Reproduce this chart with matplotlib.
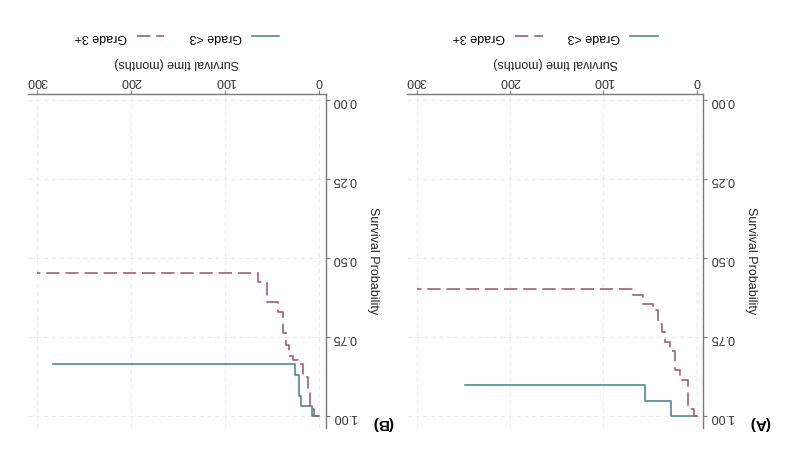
import matplotlib
matplotlib.use("Agg")
import matplotlib.pyplot as plt

plt.rcParams['font.family'] = ['Liberation Sans', 'DejaVu Sans']

a_lt3_t = [0, 27.7, 55.3, 248]
a_lt3_p = [1.0, 0.955, 0.902, 0.902]
a_3p_t = [0, 3.2, 9.2, 18.1, 23.4, 28.7, 34, 37.6, 41.1, 46.5, 57.1, 67.7, 300]
a_3p_p = [1.0, 0.979, 0.889, 0.857, 0.794, 0.767, 0.736, 0.709, 0.667, 0.646, 0.619, 0.598, 0.598]

b_lt3_t = [0, 7.8, 19, 21, 25.5, 283]
b_lt3_p = [1.0, 0.970, 0.937, 0.873, 0.836, 0.836]
b_3p_t = [0, 5, 10, 11.4, 17, 22, 27.3, 32, 35, 38, 43.3, 55.5, 65, 300]
b_3p_p = [1.0, 0.979, 0.92, 0.878, 0.836, 0.825, 0.81, 0.775, 0.74, 0.672, 0.64, 0.577, 0.549, 0.549]

x_ticks = [0, 100, 200, 300]
y_ticks = [0.00, 0.25, 0.50, 0.75, 1.00]
y_ticklabels = ["0.00", "0.25", "0.50", "0.75", "1.00"]
groups = ["Grade <3", "Grade 3+"]

teal = "#4f8b8d"
mauve = "#a3606e"
gray = "#7a7a7a"


def km_panel(fig, rect, lt3_t, lt3_p, p3_t, p3_p, tag):
    ax = fig.add_axes(rect)
    l1, = ax.step(lt3_t, lt3_p, where="post", color=teal, lw=1.2)
    l2, = ax.step(p3_t, p3_p, where="post", color=mauve, lw=1.2,
                  linestyle=(0, (8, 3.5)))
    # picture is rotated 180 degrees: flip both axes
    ax.set_xlim(310, -7)
    ax.set_ylim(1.04, -0.019)
    ax.set_xticks(x_ticks)
    ax.set_yticks(y_ticks)
    ax.set_yticklabels(y_ticklabels)
    ax.xaxis.tick_top()
    ax.yaxis.tick_right()
    for s in ["left", "bottom"]:
        ax.spines[s].set_visible(False)
    for s in ["top", "right"]:
        ax.spines[s].set_color(gray)
        ax.spines[s].set_linewidth(1.0)
    ax.tick_params(colors=gray, labelcolor="#333333", labelsize=9,
                   length=3, pad=2, labelrotation=180)
    ax.grid(True, color="#ececec", lw=0.8, linestyle=(0, (4, 3)))
    ax.set_axisbelow(True)

    ax.text(0.5, 1.093, "Survival time (months)", transform=ax.transAxes,
            rotation=180, ha="center", va="center", fontsize=9, color="#222222")
    ax.text(1.16, 0.5, "Survival Probability", transform=ax.transAxes,
            rotation=270, ha="center", va="center", fontsize=9, color="#222222")
    ax.text(1.19, 0.015, tag, transform=ax.transAxes, rotation=180,
            ha="center", va="center", fontsize=11, fontweight="bold")

    leg = ax.legend([l2, l1], [groups[1], groups[0]], ncol=2, markerfirst=False,
                    frameon=False, loc="center", bbox_to_anchor=(0.5, 1.17),
                    fontsize=9, handlelength=2.2, handletextpad=0.8,
                    columnspacing=2.0)
    for t in leg.get_texts():
        t.set_rotation(180)
    return ax


fig = plt.figure(figsize=(8, 4.54), dpi=100)
km_panel(fig, [0.509, 0.057, 0.370, 0.736], a_lt3_t, a_lt3_p, a_3p_t, a_3p_p, "(A)")
km_panel(fig, [0.035, 0.057, 0.372, 0.736], b_lt3_t, b_lt3_p, b_3p_t, b_3p_p, "(B)")

fig.savefig("out.png", dpi=100)
